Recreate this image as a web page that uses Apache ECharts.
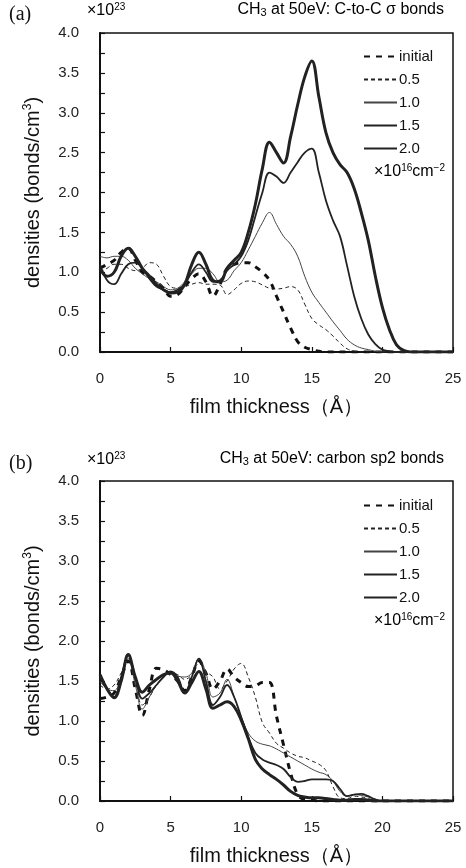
<!DOCTYPE html>
<html>
<head>
<meta charset="utf-8">
<script src="https://cdn.jsdelivr.net/npm/echarts@6/dist/echarts.min.js"></script>
<style>
  html, body { margin: 0; padding: 0; background: #fff; }
  #chart { width: 466px; height: 868px; }
</style>
</head>
<body>
<div id="chart"></div>
<script>
// film thickness (Å), step 0.5
var thickness = [];
for (var i = 0; i <= 50; i++) thickness.push(i * 0.5);

var seriesNames = ['initial', '0.5', '1.0', '1.5', '2.0'];
var xTicks = [0, 5, 10, 15, 20, 25];

// (a) C-to-C sigma bonds, x10^23
var aInitial = [1.05,1.1,1.15,1.25,1.3,1.15,1.0,0.95,0.88,0.8,0.7,0.72,0.82,0.92,0.98,0.88,0.7,0.85,1.05,1.1,1.12,1.12,1.07,1.0,0.9,0.7,0.5,0.3,0.13,0.06,0.03,0.01,0,0,0,0,0,0,0,0,0,0,0,0,0,0,0,0,0,0,0];
var a05 = [1.0,1.05,1.1,1.1,1.05,1.02,1.05,1.12,1.1,0.95,0.82,0.8,0.82,0.85,0.87,0.85,0.85,0.84,0.72,0.78,0.86,0.89,0.88,0.84,0.8,0.79,0.8,0.82,0.78,0.6,0.42,0.34,0.28,0.2,0.11,0.04,0.01,0,0,0,0,0,0,0,0,0,0,0,0,0,0];
var a10 = [1.2,1.18,1.2,1.2,1.15,1.05,0.98,0.92,0.88,0.82,0.78,0.8,0.88,0.98,1.05,1.05,0.98,0.88,0.9,1.02,1.12,1.28,1.45,1.62,1.75,1.6,1.45,1.35,1.2,0.95,0.75,0.62,0.5,0.38,0.27,0.16,0.09,0.05,0.03,0.01,0,0,0,0,0,0,0,0,0,0,0];
var a15 = [1.1,0.9,0.85,0.98,1.1,1.12,1.05,0.92,0.82,0.78,0.75,0.78,0.85,1.0,1.1,1.0,0.88,0.9,1.02,1.1,1.2,1.4,1.7,2.0,2.25,2.2,2.12,2.25,2.38,2.5,2.55,2.25,1.9,1.65,1.45,1.08,0.7,0.42,0.22,0.1,0.03,0.01,0,0,0,0,0,0,0,0,0];
var a20 = [1.05,0.95,1.0,1.2,1.3,1.2,1.05,0.95,0.85,0.78,0.74,0.75,0.85,1.1,1.25,1.1,0.9,0.88,1.05,1.15,1.25,1.5,1.85,2.3,2.63,2.5,2.37,2.7,3.1,3.45,3.65,3.2,2.75,2.5,2.35,2.25,2.05,1.75,1.4,0.95,0.56,0.28,0.09,0.02,0,0,0,0,0,0,0];

// (b) carbon sp2 bonds, x10^23
var bInitial = [1.28,1.3,1.35,1.55,1.75,1.4,1.07,1.4,1.66,1.64,1.58,1.5,1.38,1.55,1.75,1.6,1.4,1.5,1.65,1.55,1.48,1.43,1.44,1.48,1.48,1.06,0.7,0.35,0.08,0.02,0.01,0,0,0,0,0,0,0,0,0,0,0,0,0,0,0,0,0,0,0,0];
var b05 = [1.45,1.4,1.45,1.6,1.75,1.5,1.2,1.3,1.45,1.55,1.6,1.58,1.52,1.58,1.72,1.62,1.55,1.4,1.5,1.65,1.72,1.55,1.3,0.98,0.85,0.72,0.66,0.6,0.56,0.54,0.5,0.46,0.38,0.18,0.04,0.03,0.06,0.05,0.03,0.01,0,0,0,0,0,0,0,0,0,0,0];
var b10 = [1.5,1.4,1.38,1.55,1.78,1.45,1.15,1.3,1.45,1.55,1.6,1.56,1.55,1.6,1.78,1.6,1.3,1.35,1.52,1.3,1.05,0.85,0.75,0.71,0.69,0.65,0.6,0.55,0.5,0.45,0.4,0.36,0.33,0.25,0.12,0.06,0.08,0.07,0.05,0.02,0,0,0,0,0,0,0,0,0,0,0];
var b15 = [1.55,1.4,1.3,1.55,1.82,1.55,1.28,1.35,1.45,1.55,1.62,1.55,1.35,1.55,1.78,1.5,1.2,1.3,1.45,1.3,1.05,0.8,0.6,0.52,0.48,0.45,0.4,0.3,0.24,0.25,0.27,0.27,0.27,0.25,0.15,0.06,0.08,0.09,0.06,0.02,0,0,0,0,0,0,0,0,0,0,0];
var b20 = [1.58,1.4,1.29,1.5,1.83,1.55,1.36,1.45,1.52,1.58,1.6,1.5,1.35,1.48,1.62,1.4,1.16,1.2,1.24,1.18,1.01,0.78,0.52,0.4,0.33,0.27,0.2,0.12,0.07,0.05,0.04,0.04,0.03,0.02,0.01,0.01,0.02,0.02,0.01,0,0,0,0,0,0,0,0,0,0,0,0];

var FONT = 'Liberation Sans';

function pairs(vals) {
  return thickness.map(function (x, i) { return [x, vals[i]]; });
}

// line styles per exposure
var styles = {
  'initial': { width: 3, type: [6, 6], color: '#111' },
  '0.5': { width: 1, type: [4, 3], color: '#222' },
  '1.0': { width: 1, type: 'solid', color: '#444' },
  '1.5': { width: 1.8, type: 'solid', color: '#222' },
  '2.0': { width: 3, type: 'solid', color: '#222' }
};

function mkSeries(name, vals, idx) {
  var st = styles[name];
  return {
    name: name,
    type: 'line',
    xAxisIndex: idx,
    yAxisIndex: idx,
    data: pairs(vals),
    smooth: 0.4,
    symbol: 'none',
    itemStyle: { color: st.color },
    lineStyle: { width: st.width, type: st.type, color: st.color },
    z: 3
  };
}

var richText = {
  sup: { fontSize: 10, fontFamily: FONT, padding: [0, 0, 8, 0], color: '#111' },
  sub: { fontSize: 11, fontFamily: FONT, padding: [6, 0, 0, 0], color: '#111' },
  n: { fontSize: 16, fontFamily: FONT, color: '#111' }
};

function xAx(idx) {
  return {
    gridIndex: idx, type: 'value', min: 0, max: 25, interval: 5,
    name: 'film thickness（Å）', nameLocation: 'middle', nameGap: 45,
    nameTextStyle: { fontSize: 20, fontFamily: FONT, color: '#111' },
    axisLine: { lineStyle: { color: '#111', width: 2 } },
    axisTick: { inside: true, length: 5, lineStyle: { color: '#111', width: 1.2 } },
    axisLabel: { margin: 19, fontSize: 15, fontFamily: FONT, color: '#222',
      customValues: xTicks },
    splitLine: { show: false }
  };
}

function yAx(idx) {
  return {
    gridIndex: idx, type: 'value', min: 0, max: 4, interval: 0.5,
    name: '{n|densities (bonds/cm}{sup|3}{n|)}', nameLocation: 'middle', nameGap: 56,
    nameRotate: 90,
    nameTextStyle: { fontSize: 20, fontFamily: FONT, color: '#111',
      rich: { n: { fontSize: 20, fontFamily: FONT, color: '#111' },
              sup: { fontSize: 12, fontFamily: FONT, padding: [0, 0, 10, 0], color: '#111' } } },
    axisLine: { lineStyle: { color: '#111', width: 2 } },
    axisTick: { inside: true, length: 5, lineStyle: { color: '#111', width: 1.2 } },
    minorTick: { show: true, splitNumber: 2, length: 5, lineStyle: { color: '#111', width: 1.2 } },
    axisLabel: { margin: 21, fontSize: 15, fontFamily: FONT, color: '#222',
      formatter: function (v) { return v.toFixed(1); } },
    splitLine: { show: false }
  };
}

function legendAt(top) {
  return {
    orient: 'vertical', left: 358, top: top,
    itemWidth: 33, itemHeight: 14, itemGap: 8,
    data: seriesNames,
    itemStyle: { opacity: 0 },
    textStyle: { fontSize: 15, fontFamily: FONT, color: '#111', padding: [0, 0, 0, -3] },
    selectedMode: false
  };
}

function headerText(top, panel, title) {
  return [
    { type: 'text', left: 9, top: top - 1, style: { text: panel, font: '20px "Liberation Serif"', fill: '#111' } },
    { type: 'text', left: 87, top: top - 4, style: { text: '{n|×10}{sup|23}', rich: richText } },
    { type: 'text', right: 22, top: top - 4, style: { text: title, rich: richText } }
  ];
}

function unitText(top) {
  return { type: 'text', left: 374, top: top, style: { text: '{n|×10}{sup|16}{n|cm}{sup|−2}', rich: richText } };
}

var chart = echarts.init(document.getElementById('chart'));
chart.setOption({
  backgroundColor: '#fff',
  animation: false,
  grid: [
    { left: 100, top: 33, width: 353, height: 319, show: true, borderColor: '#111', borderWidth: 1.5, backgroundColor: 'transparent' },
    { left: 100, top: 481, width: 353, height: 320, show: true, borderColor: '#111', borderWidth: 1.5, backgroundColor: 'transparent' }
  ],
  xAxis: [xAx(0), xAx(1)],
  yAxis: [yAx(0), yAx(1)],
  legend: [legendAt(44), legendAt(493)],
  graphic: [].concat(
    headerText(6, '(a)', '{n|CH}{sub|3}{n| at 50eV: C-to-C σ bonds}'),
    headerText(455, '(b)', '{n|CH}{sub|3}{n| at 50eV: carbon sp2 bonds}'),
    [unitText(163), unitText(612)]
  ),
  series: [
    mkSeries('initial', aInitial, 0), mkSeries('0.5', a05, 0), mkSeries('1.0', a10, 0),
    mkSeries('1.5', a15, 0), mkSeries('2.0', a20, 0),
    mkSeries('initial', bInitial, 1), mkSeries('0.5', b05, 1), mkSeries('1.0', b10, 1),
    mkSeries('1.5', b15, 1), mkSeries('2.0', b20, 1)
  ]
});
window.addEventListener('resize', function () { chart.resize(); });
</script>
</body>
</html>
